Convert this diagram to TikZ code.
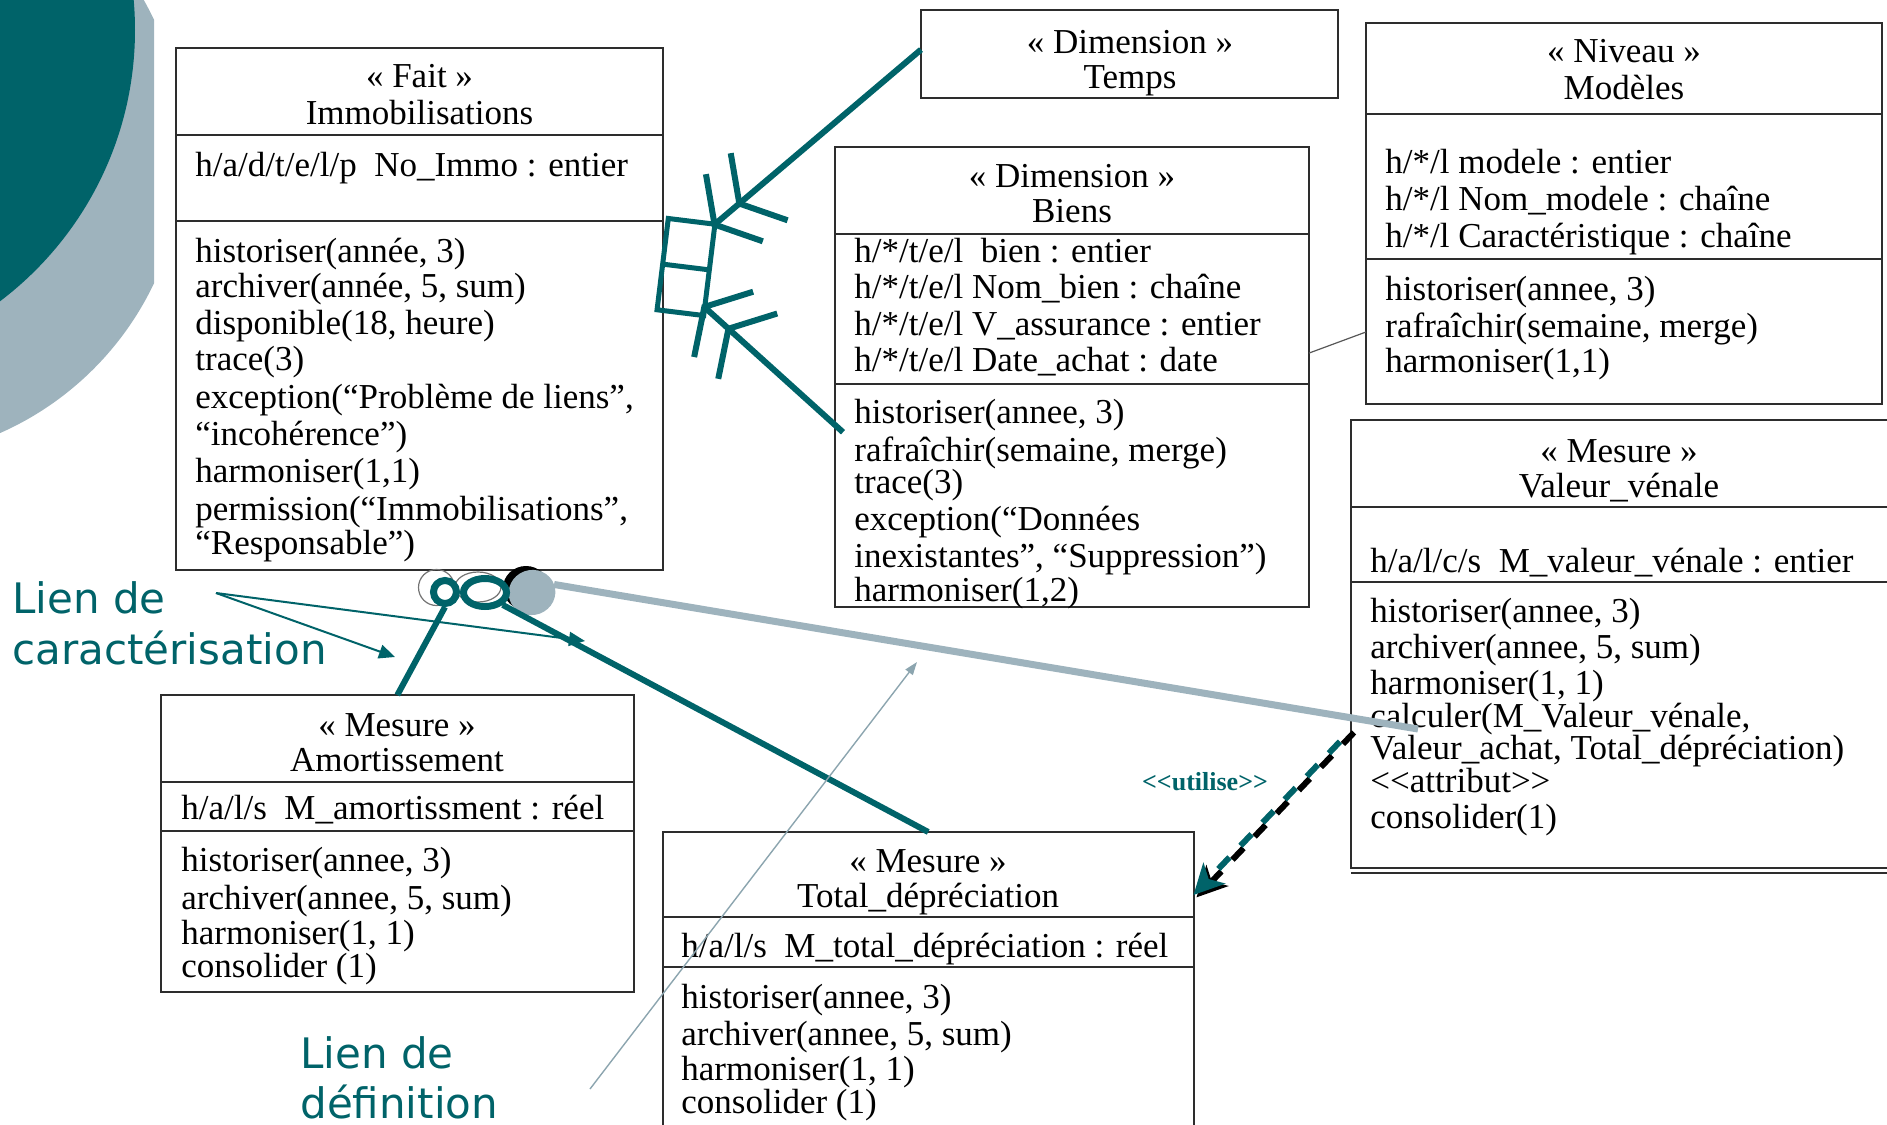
\documentclass[tikz,border=0pt]{standalone}
\usepackage{fontspec}
\setmainfont{Liberation Serif}
\newfontfamily\lienfont{DejaVu Sans}
\usetikzlibrary{arrows.meta,calc,fit,shapes.geometric}
\definecolor{teal1}{RGB}{0,99,105}
\definecolor{lgray}{RGB}{158,179,189}
\definecolor{dgray}{RGB}{140,165,175}
\definecolor{boxc}{RGB}{45,45,45}
\newcommand\mytl[4]{\node[txt] (#1) at (#2,#3) {#4};}
\newcommand\myhd[4]{\node[hd] (#1) at (#2,#3) {#4};}
\begin{document}
\begin{tikzpicture}[x=0.5pt,y=-0.5pt,
  box/.style={draw=boxc,line width=1pt,inner sep=0pt,outer sep=0pt,fill=white},
  txt/.style={font=\fontsize{17.5}{18}\selectfont,anchor=base west,inner sep=0pt,text=black},
  hd/.style={txt,anchor=base},
  divline/.style={draw=boxc,line width=1pt},
  lien/.style={font=\lienfont\fontsize{21}{25}\selectfont,text=teal1,anchor=base west,inner sep=0pt},
  dimarrow/.style={draw=teal1,line width=3pt,-{Straight Barb[length=13pt,width=44pt] Straight Barb[length=13pt,width=44pt,sep=-2pt]}},
  thick teal/.style={draw=teal1,line width=3pt},
  thinarrow/.style={draw=teal1,line width=1pt,-{Triangle[length=8pt,width=7pt]}}
]
\useasboundingbox (0,0) rectangle (1887,1125);
\clip (0,0) rectangle (1887,1125);

% background decoration
\begin{scope}
  \clip (0,0) rectangle (154,1125);
  \fill[lgray] (-124,151.5) circle [radius=153.8pt];
\end{scope}
\fill[teal1] (-205,30) circle [radius=170pt];

% boxes
\node[box, fit={(176,48)(663,570)}] (fait) {};
\node[box, fit={(921,10)(1338,98)}] (temps) {};
\node[box, fit={(835,147)(1309,607)}] (biens) {};
\node[box, fit={(1366,23)(1882,404)}] (modeles) {};
\node[box, fit={(1351,420)(1900,868)}] (valeur) {};
\node[box, fit={(160.7,695)(634,992)}] (amort) {};
\node[box, fit={(663,832)(1193.5,1140)}] (total) {};

% compartment lines
\draw[divline] (176,135) -- (663,135);
\draw[divline] (176,221) -- (663,221);
\draw[divline] (835,234) -- (1309,234);
\draw[divline] (835,384) -- (1309,384);
\draw[divline] (1366,114) -- (1882,114);
\draw[divline] (1366,259) -- (1882,259);
\draw[divline] (1351,507) -- (1900,507);
\draw[divline] (1351,582) -- (1900,582);
\draw[divline] (1351,873) -- (1900,873);
\draw[divline] (160.7,781.6) -- (634,781.6);
\draw[divline] (160.7,831) -- (634,831);
\draw[divline] (663,917) -- (1193.5,917);
\draw[divline] (663,967) -- (1193.5,967);

% Fait
\myhd{f1}{419.5}{87}{« Fait »}
\myhd{f2}{419.5}{124}{Immobilisations}
\mytl{f3}{195}{176}{h/a/d/t/e/l/p\ \ No\_Immo : entier}
\mytl{f4}{195}{262}{historiser(année, 3)}
\mytl{f5}{195}{297}{archiver(année, 5, sum)}
\mytl{f6}{195}{334}{disponible(18, heure)}
\mytl{f7}{195}{370}{trace(3)}
\mytl{f8}{195}{408}{exception(“Problème de liens”,}
\mytl{f9}{195}{445}{“incohérence”)}
\mytl{f10}{195}{482}{harmoniser(1,1)}
\mytl{f11}{195}{520}{permission(“Immobilisations”,}
\mytl{f12}{195}{554}{“Responsable”)}

% Temps
\myhd{t1}{1130}{53}{« Dimension »}
\myhd{t2}{1130}{88}{Temps}

% Biens
\myhd{b1}{1072}{187}{« Dimension »}
\myhd{b2}{1072}{222}{Biens}
\mytl{b3}{854}{262}{h/*/t/e/l\ \ bien : entier}
\mytl{b4}{854}{298}{h/*/t/e/l Nom\_bien : chaîne}
\mytl{b5}{854}{335}{h/*/t/e/l V\_assurance : entier}
\mytl{b6}{854}{371}{h/*/t/e/l Date\_achat : date}
\mytl{b7}{854}{423}{historiser(annee, 3)}
\mytl{b8}{854}{461}{rafraîchir(semaine, merge)}
\mytl{b9}{854}{493}{trace(3)}
\mytl{b10}{854}{530}{exception(“Données}
\mytl{b11}{854}{567}{inexistantes”, “Suppression”)}
\mytl{b12}{854}{601}{harmoniser(1,2)}

% Modeles
\myhd{m1}{1624}{62}{« Niveau »}
\myhd{m2}{1624}{99}{Modèles}
\mytl{m3}{1385}{173}{h/*/l modele : entier}
\mytl{m4}{1385}{210}{h/*/l Nom\_modele : chaîne}
\mytl{m5}{1385}{247}{h/*/l Caractéristique : chaîne}
\mytl{m6}{1385}{300}{historiser(annee, 3)}
\mytl{m7}{1385}{337}{rafraîchir(semaine, merge)}
\mytl{m8}{1385}{372}{harmoniser(1,1)}

% Valeur venale
\myhd{v1}{1619}{462}{« Mesure »}
\myhd{v2}{1619}{497}{Valeur\_vénale}
\mytl{v3}{1370}{572}{h/a/l/c/s\ \ M\_valeur\_vénale : entier}
\mytl{v4}{1370}{622}{historiser(annee, 3)}
\mytl{v5}{1370}{658}{archiver(annee, 5, sum)}
\mytl{v6}{1370}{694}{harmoniser(1, 1)}
\mytl{v7}{1370}{727}{calculer(M\_Valeur\_vénale,}
\mytl{v8}{1370}{759}{Valeur\_achat, Total\_dépréciation)}
\mytl{v9}{1370}{792}{<{}<attribut>{}>}
\mytl{v10}{1370}{828}{consolider(1)}

% Amortissement
\myhd{a1}{397}{736}{« Mesure »}
\myhd{a2}{397}{771}{Amortissement}
\mytl{a3}{181}{819}{h/a/l/s\ \ M\_amortissment : réel}
\mytl{a4}{181}{871}{historiser(annee, 3)}
\mytl{a5}{181}{909}{archiver(annee, 5, sum)}
\mytl{a6}{181}{944}{harmoniser(1, 1)}
\mytl{a7}{181}{977}{consolider (1)}

% Total depreciation
\myhd{d1}{928}{872}{« Mesure »}
\myhd{d2}{928}{907}{Total\_dépréciation}
\mytl{d3}{681}{957}{h/a/l/s\ \ M\_total\_dépréciation : réel}
\mytl{d4}{681}{1008}{historiser(annee, 3)}
\mytl{d5}{681}{1045}{archiver(annee, 5, sum)}
\mytl{d6}{681}{1080}{harmoniser(1, 1)}
\mytl{d7}{681}{1113}{consolider (1)}

% dimension symbol
\node[draw=teal1, line width=2.5pt, minimum width=23.5pt, minimum height=46pt,
      rotate=-7, inner sep=0pt, outer sep=0pt] (symb) at (686,267) {};
\draw[teal1, line width=2.5pt] (symb.west) -- (symb.east);

% rings under Fait
\draw[black!55, line width=0.6pt] (436.5,587.5) circle [radius=9pt];
\draw[black!55, line width=0.6pt] (478,587) ellipse [x radius=11.5pt, y radius=7.5pt];
\fill[black] (526,588) ellipse [x radius=11.5pt, y radius=11pt];
\node[ellipse, fill=lgray, minimum width=23.5pt, minimum height=22.5pt,
      inner sep=0pt, outer sep=0pt, rotate=20] (gball) at (532,592.5) {};
\node[circle, draw=teal1, line width=3.5pt, minimum size=11.5pt, inner sep=0pt] (ring1) at (445,592) {};
\node[ellipse, draw=teal1, line width=3.5pt, minimum width=21.5pt, minimum height=14pt, inner sep=0pt] (ring2) at (485,592.5) {};

% connectors
\draw[dimarrow] ($(temps.north west)!0.45!(temps.south west)$) -- (symb.north east);
\draw[dimarrow] ([xshift=4pt]$(biens.north west)!0.62!(biens.south west)$) -- ($(symb.north east)!0.91!(symb.south east)$);
\draw[draw=boxc!80, line width=0.6pt] ($(biens.north east)!0.448!(biens.south east)$) -- ($(modeles.north west)!0.811!(modeles.south west)$);

\draw[thick teal] (ring1.south) -- (amort.north);
\draw[thick teal] (ring2.south east) -- (total.north);
\coordinate (gend) at (1418,729);
\draw[lgray, line width=3.5pt] (gball.east) -- (gend);

% utilise dependency
\coordinate (us) at ($(valeur.north west)!0.692!(valeur.south west)$);
\coordinate (ue) at ($(total.north east)!0.2045!(total.south east)$);
\draw[black, line width=3pt, dash pattern=on 8pt off 8pt,
      transform canvas={shift={(1.5pt,-1.2pt)}}, -{Stealth[length=15pt,width=15pt,inset=4pt]}] (us) -- (ue);
\draw[teal1, line width=3pt, dash pattern=on 8pt off 8pt, dash phase=8pt,
      -{Stealth[length=15pt,width=15pt,inset=4pt]}] (us) -- (ue);
\node[font=\bfseries\fontsize{13}{15}\selectfont, text=teal1, inner sep=0pt] (util) at (1205,782) {<{}<utilise>{}>};

% labels
\node[lien] (lc1) at (12,613) {Lien de};
\node[lien] (lc2) at (12,664.5) {caractérisation};
\node[lien] (ld1) at (300,1068) {Lien de};
\node[lien] (ld2) at (300,1118) {définition};

\coordinate (lcs) at (216,593);
\coordinate (lct1) at (395,657);
\coordinate (lct2) at (585,641);
\draw[thinarrow] (lcs) -- (lct1);
\draw[thinarrow] (lcs) -- (lct2);

\coordinate (lds) at (590,1089);
\coordinate (ldt) at (917,662);
\draw[dgray, line width=0.7pt, -{Triangle[length=6.5pt,width=4.5pt]}] (lds) -- (ldt);
\end{tikzpicture}
\end{document}
